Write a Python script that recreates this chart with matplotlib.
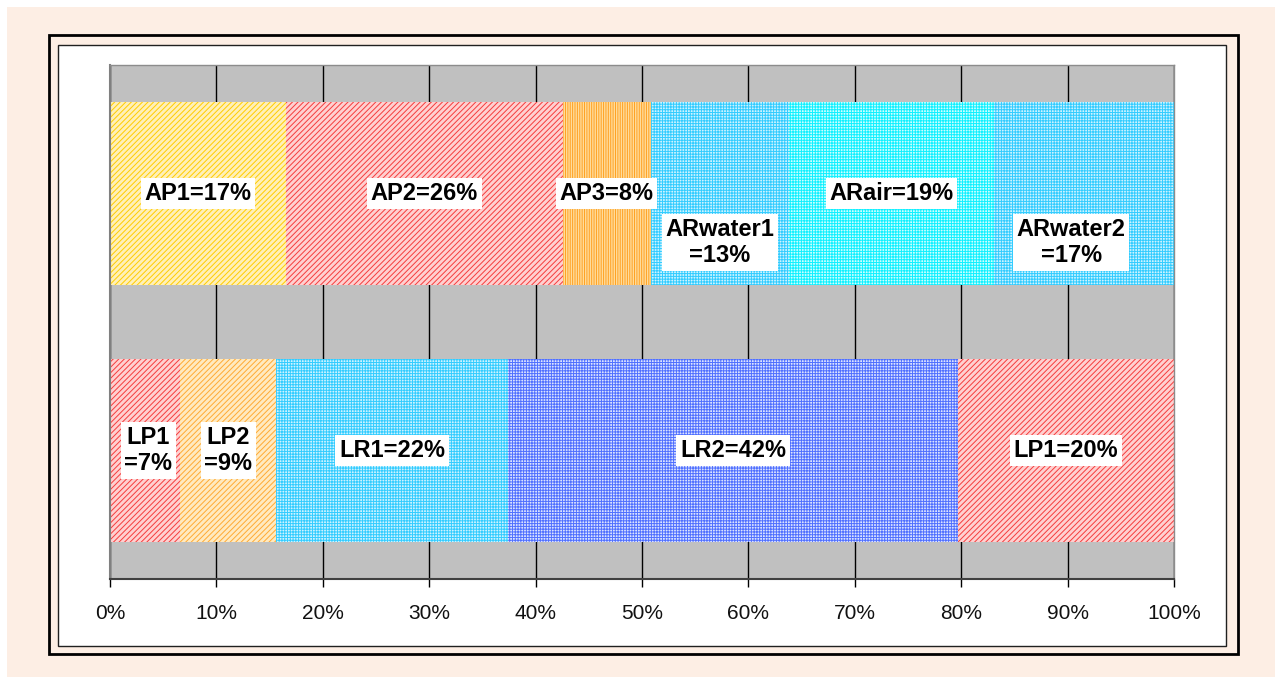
import matplotlib
matplotlib.use("Agg")
import matplotlib.pyplot as plt
from matplotlib.patches import Rectangle

# stacked 100% bars (percent of row)
rows = ["L", "A"]

top_vals = [16.5, 26.1, 8.2, 13.0, 19.3, 16.9]
top_labels = ["AP1=17%", "AP2=26%", "AP3=8%", "ARwater1\n=13%", "ARair=19%", "ARwater2\n=17%"]

bottom_vals = [6.6, 9.0, 21.8, 42.3, 20.3]
bottom_labels = ["LP1\n=7%", "LP2\n=9%", "LR1=22%", "LR2=42%", "LP1=20%"]

ticks = [0, 10, 20, 30, 40, 50, 60, 70, 80, 90, 100]

# (face, hatch colour, hatch) per segment
yellow = ("#FFF0B8", "#FFCC00", "//////")
red = ("#FFD0D0", "#F53C3C", "//////")
orange_v = ("#FFDC9C", "#FFA020", "|||||||")
orange_d = ("#FFEAC0", "#FFAA33", "//////")
cyan = ("#CDF3FF", "#33CCFF", "++++++")
lcyan = ("#CCFFFF", "#11F0FF", "++++++")
blue = ("#DCE3FF", "#5070FF", "++++++")

top_styles = [yellow, red, orange_v, cyan, lcyan, cyan]
bottom_styles = [red, orange_d, cyan, blue, red]
# nudges for labels Excel moved (x in %, y in bar units)
top_nudge = [(0, 0), (0, 0), (0, 0), (0, -0.19), (0, 0), (-1.2, -0.19)]
bottom_nudge = [(0.3, 0), (0, 0), (0, 0), (0, 0), (0, 0)]

W, H = 1275, 677
plt.rcParams["font.family"] = ["Liberation Sans", "DejaVu Sans"]
plt.rcParams["hatch.linewidth"] = 0.7

fig = plt.figure(figsize=(W / 100, H / 100), dpi=100)
fig.patch.set_facecolor("white")


def box(x0, y0, x1, y1, **kw):
    # pixel coords, top-left origin
    r = Rectangle((x0 / W, 1 - y1 / H), (x1 - x0) / W, (y1 - y0) / H,
                  transform=fig.transFigure, zorder=-10, **kw)
    fig.add_artist(r)


box(7, 7, W + 5, H + 5, facecolor="#FDEEE4", edgecolor="none")
box(49, 35, 1238, 654, facecolor="none", edgecolor="black", linewidth=2)
box(58, 45, 1226, 646, facecolor="white", edgecolor="#202020", linewidth=1)

ax = fig.add_axes([110 / W, 1 - 579 / H, (1174 - 110) / W, (579 - 65) / H])
ax.set_facecolor("#C0C0C0")
ax.set_xlim(0, 100)
ax.set_ylim(-0.5, 1.5)
ax.set_axisbelow(True)
ax.grid(axis="x", color="black", linewidth=1)
ax.grid(axis="y", visible=False)

bar_h = 0.712


def draw_row(y, vals, labels, styles, nudges):
    left = 0
    for v, lab, st, nd in zip(vals, labels, styles, nudges):
        face, hc, hatch = st
        ax.barh(y, v, left=left, height=bar_h, color=face, edgecolor=hc,
                hatch=hatch, linewidth=0, zorder=2)
        ax.text(left + v / 2 + nd[0], y + nd[1], lab, ha="center", va="center",
                multialignment="center", fontsize=17, fontweight="bold",
                zorder=5,
                bbox=dict(boxstyle="square,pad=0.15", facecolor="white",
                          edgecolor="none"))
        left += v


draw_row(1, top_vals, top_labels, top_styles, top_nudge)
draw_row(0, bottom_vals, bottom_labels, bottom_styles, bottom_nudge)

ax.set_xticks(ticks)
ax.set_xticklabels([f"{t}%" for t in ticks])
ax.tick_params(axis="x", direction="out", length=6, width=1, color="black",
               labelsize=15, labelcolor="#111111", pad=12)
ax.set_yticks([])
for side in ["top", "right"]:
    ax.spines[side].set_color("#8C8C8C")
    ax.spines[side].set_linewidth(1)
ax.spines["left"].set_color("#808080")
ax.spines["left"].set_linewidth(1.5)
ax.spines["bottom"].set_color("#404040")
ax.spines["bottom"].set_linewidth(1.5)

fig.savefig("out.png", dpi=100, facecolor=fig.get_facecolor())
